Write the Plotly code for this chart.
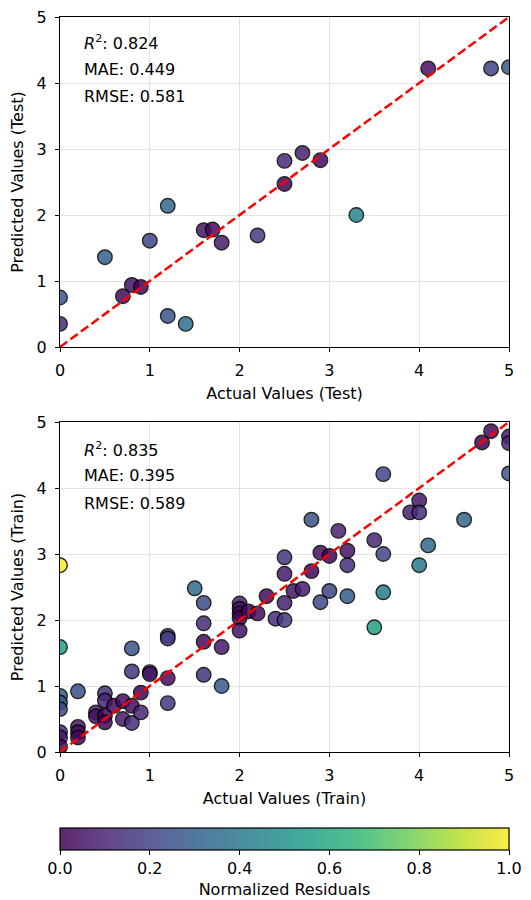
import plotly.graph_objects as go
import numpy as np

# ---------------- data ----------------
test_actual = [0, 0, 0.5, 0.7, 0.8, 0.9, 1.0, 1.2, 1.2, 1.4, 1.6, 1.7, 1.8, 2.2,
               2.5, 2.5, 2.7, 2.9, 3.3, 4.1, 4.8, 5.0]
test_pred = [0.75, 0.35, 1.36, 0.77, 0.94, 0.91, 1.61, 2.14, 0.47, 0.35, 1.77, 1.78, 1.58, 1.69,
             2.82, 2.47, 2.94, 2.83, 2.00, 4.22, 4.22, 4.24]

train_actual = [0, 0, 0, 0, 0, 0, 0, 0,
                0.2, 0.2, 0.2, 0.2,
                0.4, 0.4,
                0.5, 0.5, 0.5, 0.5,
                0.6,
                0.7, 0.7,
                0.8, 0.8, 0.8, 0.8,
                0.9, 0.9,
                1.0, 1.0,
                1.2, 1.2, 1.2, 1.2,
                1.5,
                1.6, 1.6, 1.6, 1.6,
                1.8, 1.8,
                2.0, 2.0, 2.0, 2.0, 2.0,
                2.1, 2.2, 2.3, 2.4,
                2.5, 2.5, 2.5, 2.5,
                2.6, 2.7,
                2.8, 2.8,
                2.9, 2.9,
                3.0, 3.0,
                3.1,
                3.2, 3.2, 3.2,
                3.5, 3.5,
                3.6, 3.6, 3.6,
                3.9,
                4.0, 4.0, 4.0,
                4.1, 4.5, 4.7, 4.8,
                5.0, 5.0, 5.0]
train_pred = [2.83, 1.59, 0.85, 0.75, 0.65, 0.30, 0.22, 0.08,
              0.92, 0.38, 0.30, 0.22,
              0.60, 0.54,
              0.89, 0.78, 0.55, 0.45,
              0.70,
              0.77, 0.50,
              1.57, 1.22, 0.70, 0.44,
              0.90, 0.60,
              1.21, 1.18,
              1.76, 1.72, 1.12, 0.74,
              2.48,
              2.26, 1.95, 1.67, 1.17,
              1.59, 1.00,
              2.25, 2.17, 2.10, 2.03, 1.84,
              2.13, 2.10, 2.36, 2.02,
              2.95, 2.70, 2.26, 2.00,
              2.44, 2.47,
              3.52, 2.74,
              3.02, 2.27,
              2.97, 2.44,
              3.35,
              3.05, 2.83, 2.36,
              3.21, 1.89,
              4.21, 3.00, 2.42,
              3.63,
              3.81, 3.63, 2.83,
              3.13, 3.52, 4.69, 4.86,
              4.78, 4.68, 4.22]

test_stats = ["0.824", "0.449", "0.581"]
train_stats = ["0.835", "0.395", "0.589"]
tick_vals = [0, 1, 2, 3, 4, 5]
cbar_ticks = [0.0, 0.2, 0.4, 0.6, 0.8, 1.0]

# ---------------- derived ----------------
ta, tp = np.array(test_actual), np.array(test_pred)
ra, rp = np.array(train_actual), np.array(train_pred)
res_test = np.abs(tp - ta)
res_train = np.abs(rp - ra)
rmax = max(res_test.max(), res_train.max())
c_test = res_test / rmax
c_train = res_train / rmax

viridis = ["#440154", "#482878", "#3e4989", "#31688e", "#26828e",
           "#1f9e89", "#35b779", "#6ece58", "#b5de2b", "#fde725"]
alpha = 0.85
def blend(h):
    r, g, b = int(h[1:3], 16), int(h[3:5], 16), int(h[5:7], 16)
    f = lambda c: int(round(alpha * c + (1 - alpha) * 255))
    return "rgb(%d,%d,%d)" % (f(r), f(g), f(b))
cs_blend = [[i / (len(viridis) - 1), blend(c)] for i, c in enumerate(viridis)]

FONT = "DejaVu Sans"
FS = 16
fig = go.Figure()

# page has an 8px body margin; work in figure coords = page - 8
OFF = 8
W, H = 531 - OFF, 900 - OFF
ml, mr = 60 - OFF, 22
mt = 17 - OFF
plot_bottom = 752 - OFF
mb = H - plot_bottom
ph = plot_bottom - mt
top_dom = [(752 - 347) / ph, 1.0]
bot_dom = [0.0, (752 - 422) / ph]

marker_common = dict(size=14.5, colorscale="Viridis", cmin=0, cmax=1,
                     opacity=alpha, line=dict(color="black", width=1.4))

fig.add_trace(go.Scatter(x=test_actual, y=test_pred, mode="markers",
                         marker=dict(color=c_test, **marker_common),
                         xaxis="x", yaxis="y", showlegend=False))
fig.add_trace(go.Scatter(x=[0, 5], y=[0, 5], mode="lines",
                         line=dict(color="red", width=2.5, dash="9px,4px"),
                         xaxis="x", yaxis="y", showlegend=False))
fig.add_trace(go.Scatter(x=train_actual, y=train_pred, mode="markers",
                         marker=dict(color=c_train, **marker_common),
                         xaxis="x2", yaxis="y2", showlegend=False))
fig.add_trace(go.Scatter(x=[0, 5], y=[0, 5], mode="lines",
                         line=dict(color="red", width=2.5, dash="9px,4px"),
                         xaxis="x2", yaxis="y2", showlegend=False))

cb_top = 828 - OFF
fig.add_trace(go.Scatter(x=[None], y=[None], mode="markers", xaxis="x2", yaxis="y2",
                         showlegend=False,
                         marker=dict(color=[0, 1], colorscale=cs_blend, cmin=0, cmax=1,
                                     showscale=True,
                                     colorbar=dict(orientation="h", x=0, xanchor="left",
                                                   y=(plot_bottom - cb_top) / ph, yanchor="top",
                                                   len=449, lenmode="pixels",
                                                   thickness=22, thicknessmode="pixels",
                                                   xpad=0, ypad=0,
                                                   outlinewidth=1.2, outlinecolor="black",
                                                   ticks="outside", ticklen=5, tickwidth=1.2,
                                                   tickcolor="black",
                                                   tickvals=cbar_ticks,
                                                   ticktext=["%.1f" % v for v in cbar_ticks],
                                                   ticklabeloverflow="allow",
                                                   tickfont=dict(family=FONT, size=FS, color="black"),
                                                   title=dict(text="Normalized Residuals", side="bottom",
                                                              font=dict(family=FONT, size=FS, color="black"))))))

axis_common = dict(range=[0, 5], tickvals=tick_vals, showgrid=True, gridcolor="#e3e3e3",
                   gridwidth=1, zeroline=False, showline=True, mirror=True,
                   linecolor="black", linewidth=1.2, ticks="outside", ticklen=4,
                   tickwidth=1.2, tickcolor="black", ticklabelstandoff=5,
                   ticklabeloverflow="allow",
                   tickfont=dict(family=FONT, size=FS, color="black"))

def ttl(t):
    return dict(text=t, standoff=8, font=dict(family=FONT, size=FS, color="black"))

fig.update_layout(
    width=W, height=H, margin=dict(l=ml, r=mr, t=mt, b=mb, autoexpand=False),
    plot_bgcolor="white", paper_bgcolor="white",
    xaxis=dict(domain=[0, 1], anchor="y", title=ttl("Actual Values (Test)"), **axis_common),
    yaxis=dict(domain=top_dom, anchor="x", title=ttl("Predicted Values (Test)"), **axis_common),
    xaxis2=dict(domain=[0, 1], anchor="y2", title=ttl("Actual Values (Train)"), **axis_common),
    yaxis2=dict(domain=bot_dom, anchor="x2", title=ttl("Predicted Values (Train)"), **axis_common),
)

labels = ["<i>R</i><sup>2</sup>: ", "MAE: ", "RMSE: "]
ypos_top = [0.922, 0.842, 0.759]
ypos_bot = [0.917, 0.837, 0.754]
for stats, xr, yr, ypos in [(test_stats, "x domain", "y domain", ypos_top),
                            (train_stats, "x2 domain", "y2 domain", ypos_bot)]:
    for lab, val, yp in zip(labels, stats, ypos):
        fig.add_annotation(text=lab + val, x=0.05, y=yp, xref=xr, yref=yr,
                           xanchor="left", yanchor="middle", showarrow=False,
                           font=dict(family=FONT, size=FS, color="black"))

fig.write_html("out.html")
